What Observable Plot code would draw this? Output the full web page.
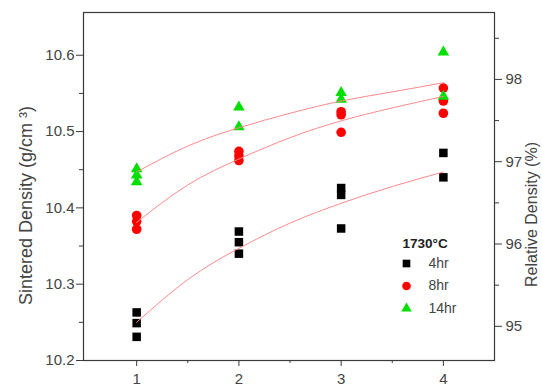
<!DOCTYPE html>
<html>
<head>
<meta charset="utf-8">
<script src="https://cdn.jsdelivr.net/npm/d3@7"></script>
<script src="https://cdn.jsdelivr.net/npm/@observablehq/plot@0.6"></script>
<style>
  html, body { margin: 0; padding: 0; background: #fff; }
  #chart svg { display: block; }
</style>
</head>
<body>
<div id="chart"></div>
<script>
// ---- Data ----
const seriesNames = ["4hr", "8hr", "14hr"];
const seriesColors = ["#000000", "#ff0000", "#00e000"];
const seriesSymbols = ["square", "circle", "triangle"];

const x4hr = [1, 1, 1, 2, 2, 2, 3, 3, 3, 4, 4];
const y4hr = [10.263, 10.249, 10.231, 10.369, 10.355, 10.340, 10.426, 10.417, 10.373, 10.472, 10.440];

const x8hr = [1, 1, 1, 2, 2, 2, 3, 3, 3, 4, 4, 4];
const y8hr = [10.390, 10.382, 10.372, 10.474, 10.468, 10.462, 10.526, 10.522, 10.499, 10.557, 10.540, 10.524];

const x14hr = [1, 1, 1, 2, 2, 3, 3, 4, 4];
const y14hr = [10.451, 10.443, 10.434, 10.532, 10.506, 10.551, 10.542, 10.604, 10.546];

// fitted curves
const fitX = [1, 1.5, 2, 2.5, 3, 3.5, 4];
const fit4hr = [10.250, 10.306, 10.347, 10.380, 10.406, 10.428, 10.447];
const fit8hr = [10.381, 10.430, 10.464, 10.492, 10.514, 10.531, 10.546];
const fit14hr = [10.447, 10.481, 10.505, 10.524, 10.540, 10.552, 10.564];

const xTicks = [1, 2, 3, 4];
const xMinorTicks = [1.5, 2.5, 3.5];
const yTicks = [10.2, 10.3, 10.4, 10.5, 10.6];
const yMinorTicks = [10.25, 10.35, 10.45, 10.55];
const relTicks = [95, 96, 97, 98];
const relMinorTicks = [95.5, 96.5, 97.5, 98.5];
const theoreticalDensity = 10.784; // g/cm3, links the two y axes

const legendTitle = "1730°C";
const yLabel = "Sintered Density (g/cm ³)";
const y2Label = "Relative Density (%)";

// ---- Build tables ----
const pts = [
  ...x4hr.map((x, i) => ({x, y: y4hr[i], s: "4hr"})),
  ...x8hr.map((x, i) => ({x, y: y8hr[i], s: "8hr"})),
  ...x14hr.map((x, i) => ({x, y: y14hr[i], s: "14hr"}))
];
const fits = [
  ...fitX.map((x, i) => ({x, y: fit4hr[i], s: "4hr"})),
  ...fitX.map((x, i) => ({x, y: fit8hr[i], s: "8hr"})),
  ...fitX.map((x, i) => ({x, y: fit14hr[i], s: "14hr"}))
];

const font = "Liberation Sans, Arial, sans-serif";
const axisColor = "#3a3a3a";
const textColor = "#444";
const symR = {square: 4.8, circle: 4.8, triangle: 4.3};

const marks = [
  Plot.frame({stroke: axisColor, strokeWidth: 1.2}),
  // bottom axis
  Plot.axisX(xTicks, {anchor: "bottom", tickSize: 6, tickPadding: 7, fontSize: 15, label: null, stroke: axisColor, fill: textColor}),
  Plot.axisX(xMinorTicks, {anchor: "bottom", tickSize: 3, fill: "none", label: null, stroke: axisColor}),
  // left axis
  Plot.axisY(yTicks, {anchor: "left", tickSize: 7, tickPadding: 2, fontSize: 15, label: null, stroke: axisColor, fill: textColor, tickFormat: d3.format(".1f")}),
  Plot.axisY(yMinorTicks, {anchor: "left", tickSize: 4, fill: "none", label: null, stroke: axisColor}),
  // right axis (relative density)
  Plot.axisY(relTicks.map(p => p / 100 * theoreticalDensity), {anchor: "right", tickSize: 7, tickPadding: 4, fontSize: 15, label: null, stroke: axisColor, fill: textColor, tickFormat: d => String(Math.round(d / theoreticalDensity * 100))}),
  Plot.axisY(relMinorTicks.map(p => p / 100 * theoreticalDensity), {anchor: "right", tickSize: 4, fill: "none", label: null, stroke: axisColor}),
  // axis titles
  Plot.text([yLabel], {frameAnchor: "left", dx: -57, dy: 19, rotate: -90, textAnchor: "middle", lineAnchor: "middle", fontSize: 18, fill: textColor}),
  Plot.text([y2Label], {frameAnchor: "right", dx: 37, dy: 28, rotate: -90, textAnchor: "middle", lineAnchor: "middle", fontSize: 16, fill: textColor})
];

// points
seriesNames.forEach((name, i) => {
  marks.push(Plot.dot(pts.filter(d => d.s === name), {
    x: "x", y: "y", symbol: () => seriesSymbols[i], fill: seriesColors[i], stroke: "none", r: symR[seriesSymbols[i]]
  }));
});
// fitted curves
seriesNames.forEach((name) => {
  marks.push(Plot.line(fits.filter(d => d.s === name), {x: "x", y: "y", curve: "natural", stroke: "#ff8a8a", strokeWidth: 1}));
});

// legend (inside the frame)
marks.push(Plot.text([legendTitle], {frameAnchor: "top-left", dx: 319, dy: 231, textAnchor: "start", lineAnchor: "middle", fontSize: 13.5, fontWeight: "bold", fill: "#222"}));
seriesNames.forEach((name, i) => {
  marks.push(Plot.dot([name], {frameAnchor: "top-left", dx: 323, dy: 251 + i * 22.5, symbol: () => seriesSymbols[i], fill: seriesColors[i], stroke: "none", r: symR[seriesSymbols[i]] * 0.9}));
  marks.push(Plot.text([name], {frameAnchor: "top-left", dx: 345, dy: 251 + i * 22.5, textAnchor: "start", lineAnchor: "middle", fontSize: 14, fill: textColor}));
});

const chart = Plot.plot({
  width: 542,
  height: 392,
  marginLeft: 83,
  marginRight: 48,
  marginTop: 12,
  marginBottom: 32,
  style: {fontFamily: font, background: "#fff", color: axisColor},
  x: {domain: [0.48, 4.5]},
  y: {domain: [10.2, 10.656]},
  symbol: {type: "identity"},
  marks
});
document.getElementById("chart").appendChild(chart);
</script>
</body>
</html>
